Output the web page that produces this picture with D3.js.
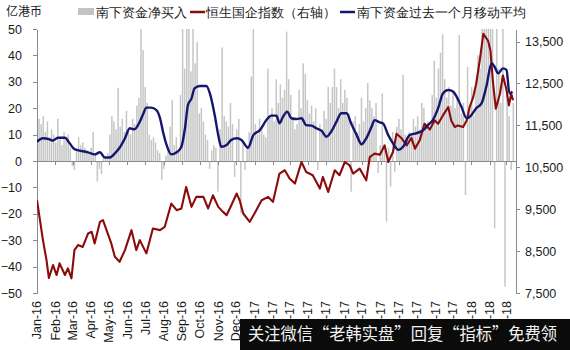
<!DOCTYPE html>
<html>
<head>
<meta charset="utf-8">
<script src="https://cdn.jsdelivr.net/npm/d3@7"></script>
<style>
	body { margin: 0; background: #fff; }
	svg { display: block; }
	text { font-family: "Liberation Sans", Arial, sans-serif; fill: #1a1a1a; }
	.cjk { font-family: "Noto Sans CJK SC", "Noto Sans", sans-serif; }
	.axis path, .axis line { stroke: #8a8a8a; shape-rendering: crispEdges; }
</style>
</head>
<body>
<svg id="chart" width="570" height="350"></svg>
<script>
;(function() {
	"use strict";

	var monthLabels = ["Jan-16","Feb-16","Mar-16","Apr-16","May-16","Jun-16","Jul-16","Aug-16","Sep-16","Oct-16","Nov-16","Dec-16",
		"Jan-17","Feb-17","Mar-17","Apr-17","May-17","Jun-17","Jul-17","Aug-17","Sep-17","Oct-17","Nov-17","Dec-17",
		"Jan-18","Feb-18","Mar-18"];

	var leftTicks = [50, 40, 30, 20, 10, 0, -10, -20, -30, -40, -50];
	var rightTicks = [7500, 8500, 9500, 10500, 11500, 12500, 13500];

	var legendNames = ["南下资金净买入", "恒生国企指数（右轴）", "南下资金过去一个月移动平均"];

	// southbound net buying, 亿港币, one value every 3.5 days from flowStart
	var flowStart = "2016-01-01";
	var flowValues = [
		12,16,14,17,11,15,9,12,10,7,
		16,9,6,11,8,10,5,-2,-3.4,4,
		9,6,7,5,4,3,5,11,3,-7.8,
		-3,-5,2,1,3,10,17,15,12,27.7,
		13,16,11,19,12,10,16,14,21,24,
		50,42,28,22,10,8,9,7,4,3,
		-7.2,-3,2,5,13,23,6,9,4,25,
		50,35,50,50,34,50,37,45,18,20,
		15,10,8,-3,4,6,5,-11.6,12,43,
		17,15,13,22,14,-6,12,16,-19.7,8,
		-3.4,6,11,32,50,14,10,16,12,10,
		9,35,17,20,15,31,22,29,24,27,
		49,31,25,16,12,14,27,20,37,33,
		23,18,21,15,20,-3.4,14,12,19,16,
		28,22,28,35,28,20,31,22,27,24,
		18,-11.6,15,17,11,14,24,15,20,29.5,
		23,20,17,22,-4.5,6,25.6,5,-23,5,
		-9.7,11,-4,13,16,12,32.6,10,9,11,
		10,16,13,17,12,22,20,14,15,13,
		25,38,24,35,41,48,31,24,28,21,
		26,20,24,47.7,18,22,-12.9,35.7,20,28,
		17,30,40,35,50,50,50,50,50,50,
		-25.5,50,35,22,50,-47.6,28,17,-3.4,22
	];

	// hang seng china enterprises index (right axis)
	var hscei = [
		["2016-01-01",9714],["2016-01-06",9238],["2016-01-11",8762],["2016-01-17",8286],["2016-01-21",7857],
		["2016-01-28",8167],["2016-02-03",7929],["2016-02-08",8207],["2016-02-17",7929],["2016-02-22",8088],
		["2016-02-28",7850],["2016-03-04",8524],["2016-03-10",8643],["2016-03-18",8600],["2016-03-27",8921],
		["2016-04-02",8960],["2016-04-07",8683],["2016-04-16",9198],["2016-04-21",9238],["2016-04-27",9000],
		["2016-05-05",8683],["2016-05-11",8364],["2016-05-19",8245],["2016-05-28",8524],["2016-06-08",9000],
		["2016-06-16",8524],["2016-06-22",8762],["2016-07-03",8445],["2016-07-14",9040],["2016-07-26",9000],
		["2016-08-03",9079],["2016-08-14",9635],["2016-08-23",9476],["2016-08-31",9516],["2016-09-08",10031],
		["2016-09-17",9555],["2016-09-25",9793],["2016-10-07",9793],["2016-10-15",9516],["2016-10-23",9833],
		["2016-11-01",9555],["2016-11-09",9436],["2016-11-15",9357],["2016-11-23",9595],["2016-12-02",9873],
		["2016-12-07",9714],["2016-12-13",9397],["2016-12-24",9198],["2017-01-01",9397],["2017-01-13",9714],
		["2017-01-24",9793],["2017-02-01",9674],["2017-02-12",10350],["2017-02-21",10429],["2017-03-01",10230],
		["2017-03-10",10111],["2017-03-21",10626],["2017-03-29",10388],["2017-04-09",10310],["2017-04-21",9992],
		["2017-04-26",10270],["2017-05-05",9912],["2017-05-16",10429],["2017-05-24",10310],["2017-06-02",10626],
		["2017-06-10",10548],["2017-06-16",10350],["2017-06-27",10468],["2017-07-08",10190],["2017-07-14",10745],
		["2017-07-22",10826],["2017-07-31",10800],["2017-08-08",11024],["2017-08-14",10626],["2017-08-22",10864],
		["2017-08-28",11302],["2017-09-05",11200],["2017-09-14",11024],["2017-09-22",11200],["2017-09-28",10945],
		["2017-10-06",11143],["2017-10-14",11540],["2017-10-23",11400],["2017-10-31",11619],["2017-11-06",11540],
		["2017-11-14",11738],["2017-11-23",11936],["2017-11-28",11619],["2017-12-04",11460],["2017-12-09",11500],
		["2017-12-18",11460],["2017-12-24",11619],["2017-12-29",11936],["2018-01-04",12174],["2018-01-09",12493],
		["2018-01-15",13048],["2018-01-21",13683],["2018-01-25",13600],["2018-01-29",13520],["2018-02-02",13286],
		["2018-02-06",12571],["2018-02-11",11897],["2018-02-18",12255],["2018-02-23",12690],["2018-03-01",12350],
		["2018-03-05",11976],["2018-03-09",12255],["2018-03-12",12100]
	];

	// southbound flows, trailing one month average
	var flowMA = [
		["2016-01-01",7.3],["2016-01-11",8.6],["2016-01-22",8.2],["2016-01-28",7.7],["2016-02-05",8.8],
		["2016-02-17",8.8],["2016-02-25",6.7],["2016-03-04",4.5],["2016-03-16",3.8],["2016-03-27",3.3],
		["2016-04-07",2.5],["2016-04-16",3.3],["2016-04-24",1.3],["2016-05-02",1.3],["2016-05-11",2.9],
		["2016-05-19",5.0],["2016-05-28",8.6],["2016-06-05",12.4],["2016-06-13",12.0],["2016-06-22",14.9],
		["2016-06-27",17.4],["2016-07-03",20.2],["2016-07-11",20.2],["2016-07-20",19.3],["2016-07-26",16.2],
		["2016-07-31",11.1],["2016-08-06",6.1],["2016-08-14",2.5],["2016-08-23",3.3],["2016-08-31",5.4],
		["2016-09-06",12.4],["2016-09-11",21.2],["2016-09-17",23.7],["2016-09-22",27.5],["2016-10-01",28.4],
		["2016-10-12",28.4],["2016-10-18",25.5],["2016-10-26",17.4],["2016-11-01",9.8],["2016-11-06",5.4],
		["2016-11-15",6.1],["2016-11-23",8.0],["2016-12-02",8.6],["2016-12-10",8.0],["2016-12-21",5.0],
		["2016-12-30",9.8],["2017-01-10",11.7],["2017-01-21",15.5],["2017-01-29",17.2],["2017-02-07",17.2],
		["2017-02-12",14.3],["2017-02-18",16.8],["2017-02-25",18.7],["2017-03-04",16.2],["2017-03-13",15.9],
		["2017-03-21",16.2],["2017-03-29",13.6],["2017-04-07",13.4],["2017-04-15",12.4],["2017-04-24",11.4],
		["2017-05-02",9.2],["2017-05-10",11.1],["2017-05-19",14.9],["2017-05-27",18.1],["2017-06-05",18.1],
		["2017-06-13",14.0],["2017-06-22",9.8],["2017-06-30",6.3],["2017-07-08",8.6],["2017-07-17",13.0],
		["2017-07-22",15.5],["2017-07-31",14.6],["2017-08-05",14.3],["2017-08-14",9.8],["2017-08-22",6.7],
		["2017-08-31",4.2],["2017-09-08",5.4],["2017-09-19",9.8],["2017-09-30",10.5],["2017-10-12",11.7],
		["2017-10-20",13.6],["2017-10-28",15.5],["2017-11-06",20.0],["2017-11-14",25.6],["2017-11-23",26.9],
		["2017-12-01",26.3],["2017-12-07",24.4],["2017-12-15",20.6],["2017-12-24",16.2],["2018-01-01",17.4],
		["2018-01-09",20.0],["2018-01-18",21.8],["2018-01-26",28.1],["2018-02-04",37.0],["2018-02-09",35.7],
		["2018-02-15",33.2],["2018-02-23",35.1],["2018-03-01",34.5],["2018-03-06",25.6],["2018-03-11",26.3]
	];

	var parseDate = d3.timeParse("%Y-%m-%d");

	var plot = { left: 37, right: 516, top: 29, bottom: 293 };

	var svg = d3.select("#chart");

	var x = d3.scaleTime()
		.domain([parseDate("2016-01-01"), parseDate("2018-03-17")])
		.range([plot.left, plot.right]);
	var yLeft = d3.scaleLinear().domain([-50, 50]).range([plot.bottom, plot.top]);
	var yRight = d3.scaleLinear().domain([7500, 13800]).range([plot.bottom, plot.top]);

	svg.append("defs").append("clipPath").attr("id", "plot-clip")
		.append("rect")
		.attr("x", plot.left).attr("y", plot.top)
		.attr("width", plot.right - plot.left).attr("height", plot.bottom - plot.top);

	//bars
	var t0 = parseDate(flowStart);
	var flowData = flowValues.map(function(v, i) {
		return { date: d3.timeHour.offset(t0, i * 84), value: v };
	});
	var barW = 1.5;

	svg.append("g")
		.attr("clip-path", "url(#plot-clip)")
		.selectAll("rect")
		.data(flowData)
		.enter().append("rect")
		.attr("x", function(d) { return x(d.date) - barW / 2; })
		.attr("y", function(d) { return yLeft(Math.max(0, d.value)); })
		.attr("width", barW)
		.attr("height", function(d) { return Math.abs(yLeft(d.value) - yLeft(0)); })
		.attr("fill", "#c6c6c6");

	//zero line with month ticks
	svg.append("g")
		.attr("class", "axis")
		.attr("transform", "translate(0," + yLeft(0) + ")")
		.call(d3.axisBottom(x).ticks(d3.timeMonth.every(1)).tickSize(4).tickSizeOuter(0).tickFormat(""));

	//left axis
	var gLeft = svg.append("g")
		.attr("class", "axis")
		.attr("transform", "translate(" + plot.left + ",0)")
		.call(d3.axisLeft(yLeft).tickValues(leftTicks).tickSize(4).tickSizeOuter(0).tickPadding(11));
	gLeft.selectAll("text").style("font-size", "12.5px");

	//right axis
	var gRight = svg.append("g")
		.attr("class", "axis")
		.attr("transform", "translate(" + plot.right + ",0)")
		.call(d3.axisRight(yRight).tickValues(rightTicks).tickFormat(d3.format(",")).tickSize(4).tickSizeOuter(0).tickPadding(5));
	gRight.selectAll("text").style("font-size", "12.5px");

	//lines
	var lineRight = d3.line()
		.x(function(d) { return x(parseDate(d[0])); })
		.y(function(d) { return yRight(d[1]); });
	var lineLeft = d3.line()
		.x(function(d) { return x(parseDate(d[0])); })
		.y(function(d) { return yLeft(d[1]); });

	var lines = svg.append("g").attr("clip-path", "url(#plot-clip)");
	lines.append("path")
		.datum(hscei)
		.attr("d", lineRight)
		.attr("fill", "none")
		.attr("stroke", "#8a0c0c")
		.attr("stroke-width", 2.1)
		.attr("stroke-linejoin", "round");
	lines.append("path")
		.datum(flowMA)
		.attr("d", lineLeft.curve(d3.curveMonotoneX))
		.attr("fill", "none")
		.attr("stroke", "#16166e")
		.attr("stroke-width", 2.4)
		.attr("stroke-linejoin", "round");

	//month labels, rotated
	svg.append("g")
		.selectAll("text")
		.data(monthLabels)
		.enter().append("text")
		.attr("transform", function(d, i) {
			return "translate(" + x(new Date(2016, i, 1)) + ",301) rotate(-90)";
		})
		.attr("dy", "0.35em")
		.attr("text-anchor", "end")
		.style("font-size", "12.5px")
		.text(function(d) { return d; });

	//unit + legend
	svg.append("text").attr("class", "cjk")
		.attr("x", 6).attr("y", 16)
		.style("font-size", "12px")
		.text("亿港币");

	var legend = svg.append("g").attr("class", "cjk");
	legend.append("rect").attr("x", 78).attr("y", 8).attr("width", 16).attr("height", 7).attr("fill", "#c3c3c3");
	legend.append("text").attr("x", 96).attr("y", 16.5).style("font-size", "12.5px").text(legendNames[0]);
	legend.append("line").attr("x1", 190).attr("x2", 205).attr("y1", 12).attr("y2", 12)
		.attr("stroke", "#8a0c0c").attr("stroke-width", 2.5);
	legend.append("text").attr("x", 206).attr("y", 16.5).style("font-size", "12.5px").text(legendNames[1]);
	legend.append("line").attr("x1", 340).attr("x2", 355).attr("y1", 12).attr("y2", 12)
		.attr("stroke", "#16166e").attr("stroke-width", 2.5);
	legend.append("text").attr("x", 357).attr("y", 16.5).style("font-size", "12.5px").text(legendNames[2]);

	//watermark band over the bottom right corner
	svg.append("rect").attr("x", 240).attr("y", 319).attr("width", 330).attr("height", 31).attr("fill", "#0b0b0b");
	svg.append("text").attr("class", "cjk")
		.attr("x", 248).attr("y", 340)
		.attr("textLength", 309)
		.attr("lengthAdjust", "spacingAndGlyphs")
		.style("font-size", "16.5px")
		.style("fill", "#f2f2f2")
		.text("关注微信“老韩实盘”回复“指标”免费领");
})();
</script>
</body>
</html>
